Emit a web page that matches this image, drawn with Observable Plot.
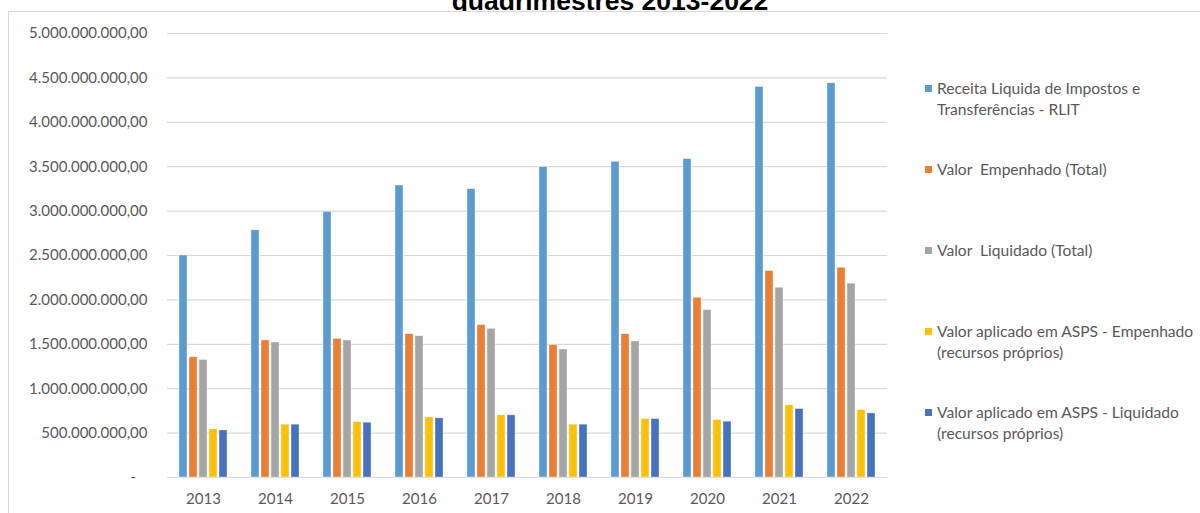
<!DOCTYPE html>
<html>
<head>
<meta charset="utf-8">
<script src="https://cdn.jsdelivr.net/npm/d3@7"></script>
<script src="https://cdn.jsdelivr.net/npm/@observablehq/plot@0.6"></script>
<style>
  html, body { margin: 0; padding: 0; background: #fff; }
  body { width: 1200px; height: 513px; overflow: hidden; position: relative; }
  #frame { position: absolute; left: 8px; top: 11px; width: 1300px; height: 600px; border: 1.5px solid #d9d9d9; box-sizing: border-box; }
  #titleclip { position: absolute; left: 0; top: 0; width: 1200px; height: 11px; overflow: hidden; }
  #title { position: absolute; left: 0; width: 1220px; top: -12.4px; text-align: center; font-family: "Liberation Sans", Arial, sans-serif; font-weight: bold; font-size: 26.5px; line-height: 26.5px; color: #000; white-space: nowrap; }
  #chart { position: absolute; left: 0; top: 0; }
  #legend { position: absolute; left: 0; top: 0; width: 1200px; height: 513px; pointer-events: none; }
  .item { position: absolute; left: 925px; font-family: Lato, "Open Sans", sans-serif; font-size: 15.6px; line-height: 21px; color: #595959; white-space: pre; }
  .sw { position: absolute; left: 0; top: 7px; width: 7px; height: 7px; }
  .lab { position: absolute; left: 12px; top: 0; }
</style>
</head>
<body>
<div id="frame"></div>
<div id="titleclip"><div id="title"></div></div>
<div id="chart"></div>
<div id="legend"></div>
<script>
const titleText = "quadrimestres 2013-2022";
const years = ["2013", "2014", "2015", "2016", "2017", "2018", "2019", "2020", "2021", "2022"];
const seriesLabels = [
  "Receita Liquida de Impostos e\nTransferências - RLIT",
  "Valor  Empenhado (Total)",
  "Valor  Liquidado (Total)",
  "Valor aplicado em ASPS - Empenhado\n(recursos próprios)",
  "Valor aplicado em ASPS - Liquidado\n(recursos próprios)"
];
const rlit     = [2.500e9, 2.784e9, 2.990e9, 3.288e9, 3.247e9, 3.495e9, 3.555e9, 3.585e9, 4.398e9, 4.439e9];
const empTotal = [1.354e9, 1.543e9, 1.561e9, 1.614e9, 1.716e9, 1.490e9, 1.614e9, 2.024e9, 2.325e9, 2.362e9];
const liqTotal = [1.324e9, 1.520e9, 1.543e9, 1.591e9, 1.674e9, 1.441e9, 1.532e9, 1.885e9, 2.137e9, 2.183e9];
const aspsEmp  = [0.542e9, 0.595e9, 0.624e9, 0.677e9, 0.700e9, 0.595e9, 0.658e9, 0.647e9, 0.813e9, 0.760e9];
const aspsLiq  = [0.530e9, 0.595e9, 0.617e9, 0.666e9, 0.700e9, 0.595e9, 0.658e9, 0.629e9, 0.771e9, 0.722e9];
const colors = ["#5B9BD5", "#ED7D31", "#A5A5A5", "#FFC000", "#4472C4"];
const yTicks = [0, 500000000, 1000000000, 1500000000, 2000000000, 2500000000, 3000000000, 3500000000, 4000000000, 4500000000, 5000000000];

const allSeries = [rlit, empTotal, liqTotal, aspsEmp, aspsLiq];
const data = [];
years.forEach((yr, i) => {
  allSeries.forEach((arr, s) => {
    data.push({year: yr, series: seriesLabels[s], value: arr[i]});
  });
});

const loc = d3.formatLocale({decimal: ",", thousands: ".", grouping: [3], currency: ["R$", ""]});
const f = loc.format(",.2f");
const fmt = v => v === 0 ? "-\u00a0\u00a0\u00a0" : f(v);

document.getElementById("title").textContent = titleText;

const chart = Plot.plot({
  width: 900,
  height: 513,
  marginTop: 33,
  marginBottom: 36,
  marginLeft: 166,
  marginRight: 13,
  style: {fontFamily: "Lato, 'Open Sans', sans-serif", fontSize: "15px", color: "#595959", background: "transparent", overflow: "visible"},
  fx: {domain: years, padding: 0, axis: "bottom", tickSize: 0, tickPadding: 16, label: null},
  x: {domain: seriesLabels, axis: null, paddingInner: 0.167, paddingOuter: 0.92},
  y: {domain: [0, 5e9], axis: null},
  color: {domain: seriesLabels, range: colors},
  marks: [
    Plot.ruleY(yTicks, {stroke: "#d9d9d9", strokeWidth: 1.2}),
    Plot.axisY(yTicks, {tickSize: 0, tickPadding: 20, tickFormat: fmt, label: null, fill: "#595959"}),
    Plot.barY(data, {fx: "year", x: "series", y: "value", fill: "series", stroke: "#ffffff", strokeOpacity: 0.6, strokeWidth: 0.6})
  ]
});
document.getElementById("chart").appendChild(chart);

const legend = document.getElementById("legend");
seriesLabels.forEach((lab, i) => {
  const item = document.createElement("div");
  item.className = "item";
  item.style.top = (78 + i * 81) + "px";
  const sw = document.createElement("div");
  sw.className = "sw";
  sw.style.background = colors[i];
  const t = document.createElement("div");
  t.className = "lab";
  t.textContent = lab;
  item.appendChild(sw);
  item.appendChild(t);
  legend.appendChild(item);
});
</script>
</body>
</html>
